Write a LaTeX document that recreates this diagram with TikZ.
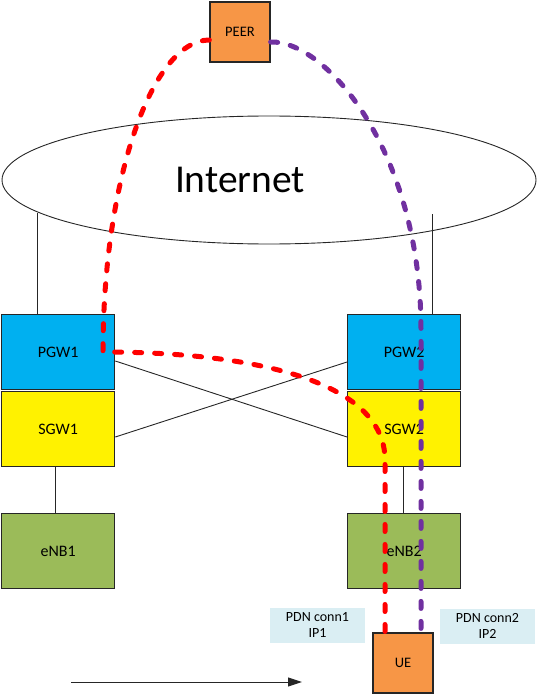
\documentclass[tikz,border=0pt]{standalone}
\usepackage{fontspec}
\setmainfont{Carlito}
\usetikzlibrary{arrows.meta,shapes.geometric}
\definecolor{pgwblue}{HTML}{00B0F0}
\definecolor{enbgreen}{HTML}{9BBB59}
\definecolor{orng}{HTML}{F79646}
\definecolor{lblue}{HTML}{DAEEF3}
\definecolor{purp}{HTML}{7030A0}
\definecolor{bord}{HTML}{262626}
\tikzset{
  box/.style={draw=bord, line width=1.3pt, minimum width=113pt, minimum height=75pt, inner sep=0pt, font=\fontsize{16}{19}\selectfont},
  sq/.style={draw=bord, line width=1.3pt, fill=orng, minimum width=60pt, minimum height=60pt, inner sep=0pt, font=\fontsize{14.5}{17}\selectfont},
  lbl/.style={fill=lblue, minimum width=95pt, minimum height=35pt, inner sep=0pt, align=center, font=\fontsize{14}{16}\selectfont},
  thin/.style={draw=bord, line width=0.9pt},
  tunnel/.style={line width=5pt, line cap=round, dash pattern=on 7pt off 13pt}
}
\begin{document}
\begin{tikzpicture}[x=1pt,y=-1pt]
\useasboundingbox (0,0) rectangle (536,695);
% Internet
\node[draw=bord, line width=0.9pt, ellipse, minimum width=534pt, minimum height=128pt, inner sep=0pt] (inet) at (269,180) {};
\node[font=\fontsize{39.5}{46}\selectfont, inner sep=0pt] (inettxt) at (240,180) {Internet};
% boxes
\node[box, fill=pgwblue, anchor=north west] (pgw1) at (1,314) {PGW1};
\node[box, fill=yellow, anchor=north west] (sgw1) at (1,391) {SGW1};
\node[box, fill=enbgreen, anchor=north west] (enb1) at (1,513) {eNB1};
\node[box, fill=pgwblue, anchor=north west] (pgw2) at (347,314) {PGW2};
\node[box, fill=yellow, anchor=north west] (sgw2) at (347,391) {SGW2};
\node[box, fill=enbgreen, anchor=north west] (enb2) at (347,513) {eNB2};
\node[sq] (peer) at (240,32) {PEER};
\node[sq] (ue) at (403,663) {UE};
\node[lbl] (l1) at (317.5,625) {PDN conn1\\IP1};
\node[lbl] (l2) at (487.5,626) {PDN conn2\\IP2};
% connector lines
\draw[thin] (37,213) -- (pgw1.north -| 37,0);
\draw[thin] (432,214) -- (pgw2.north -| 432,0);
\draw[thin] (pgw1.east |- 0,361) -- (sgw2.west |- 0,437);
\draw[thin] (sgw1.east |- 0,437) -- (pgw2.west |- 0,362);
\draw[thin] (sgw1.south -| 55,0) -- (enb1.north -| 55,0);
\draw[thin] (sgw2.south -| 403,0) -- (enb2.north -| 403,0);
% bottom arrow
\coordinate (a1) at (71,682);
\coordinate (a2) at (302,682);
\draw[line width=1pt, -{Triangle[length=14pt, width=9pt]}, draw=bord] (a1) -- (a2);
% tunnels
\draw[tunnel, draw=red] (peer.west |- 0,40) .. controls (152,40) and (103,180) .. (103,352) .. controls (250,352) and (385,380) .. (385,460) -- (ue.north -| 385,0);
\draw[tunnel, draw=purp] (peer.east |- 0,42) .. controls (325,40) and (421,150) .. (421,330) -- (ue.north -| 421,0);
\end{tikzpicture}
\end{document}
